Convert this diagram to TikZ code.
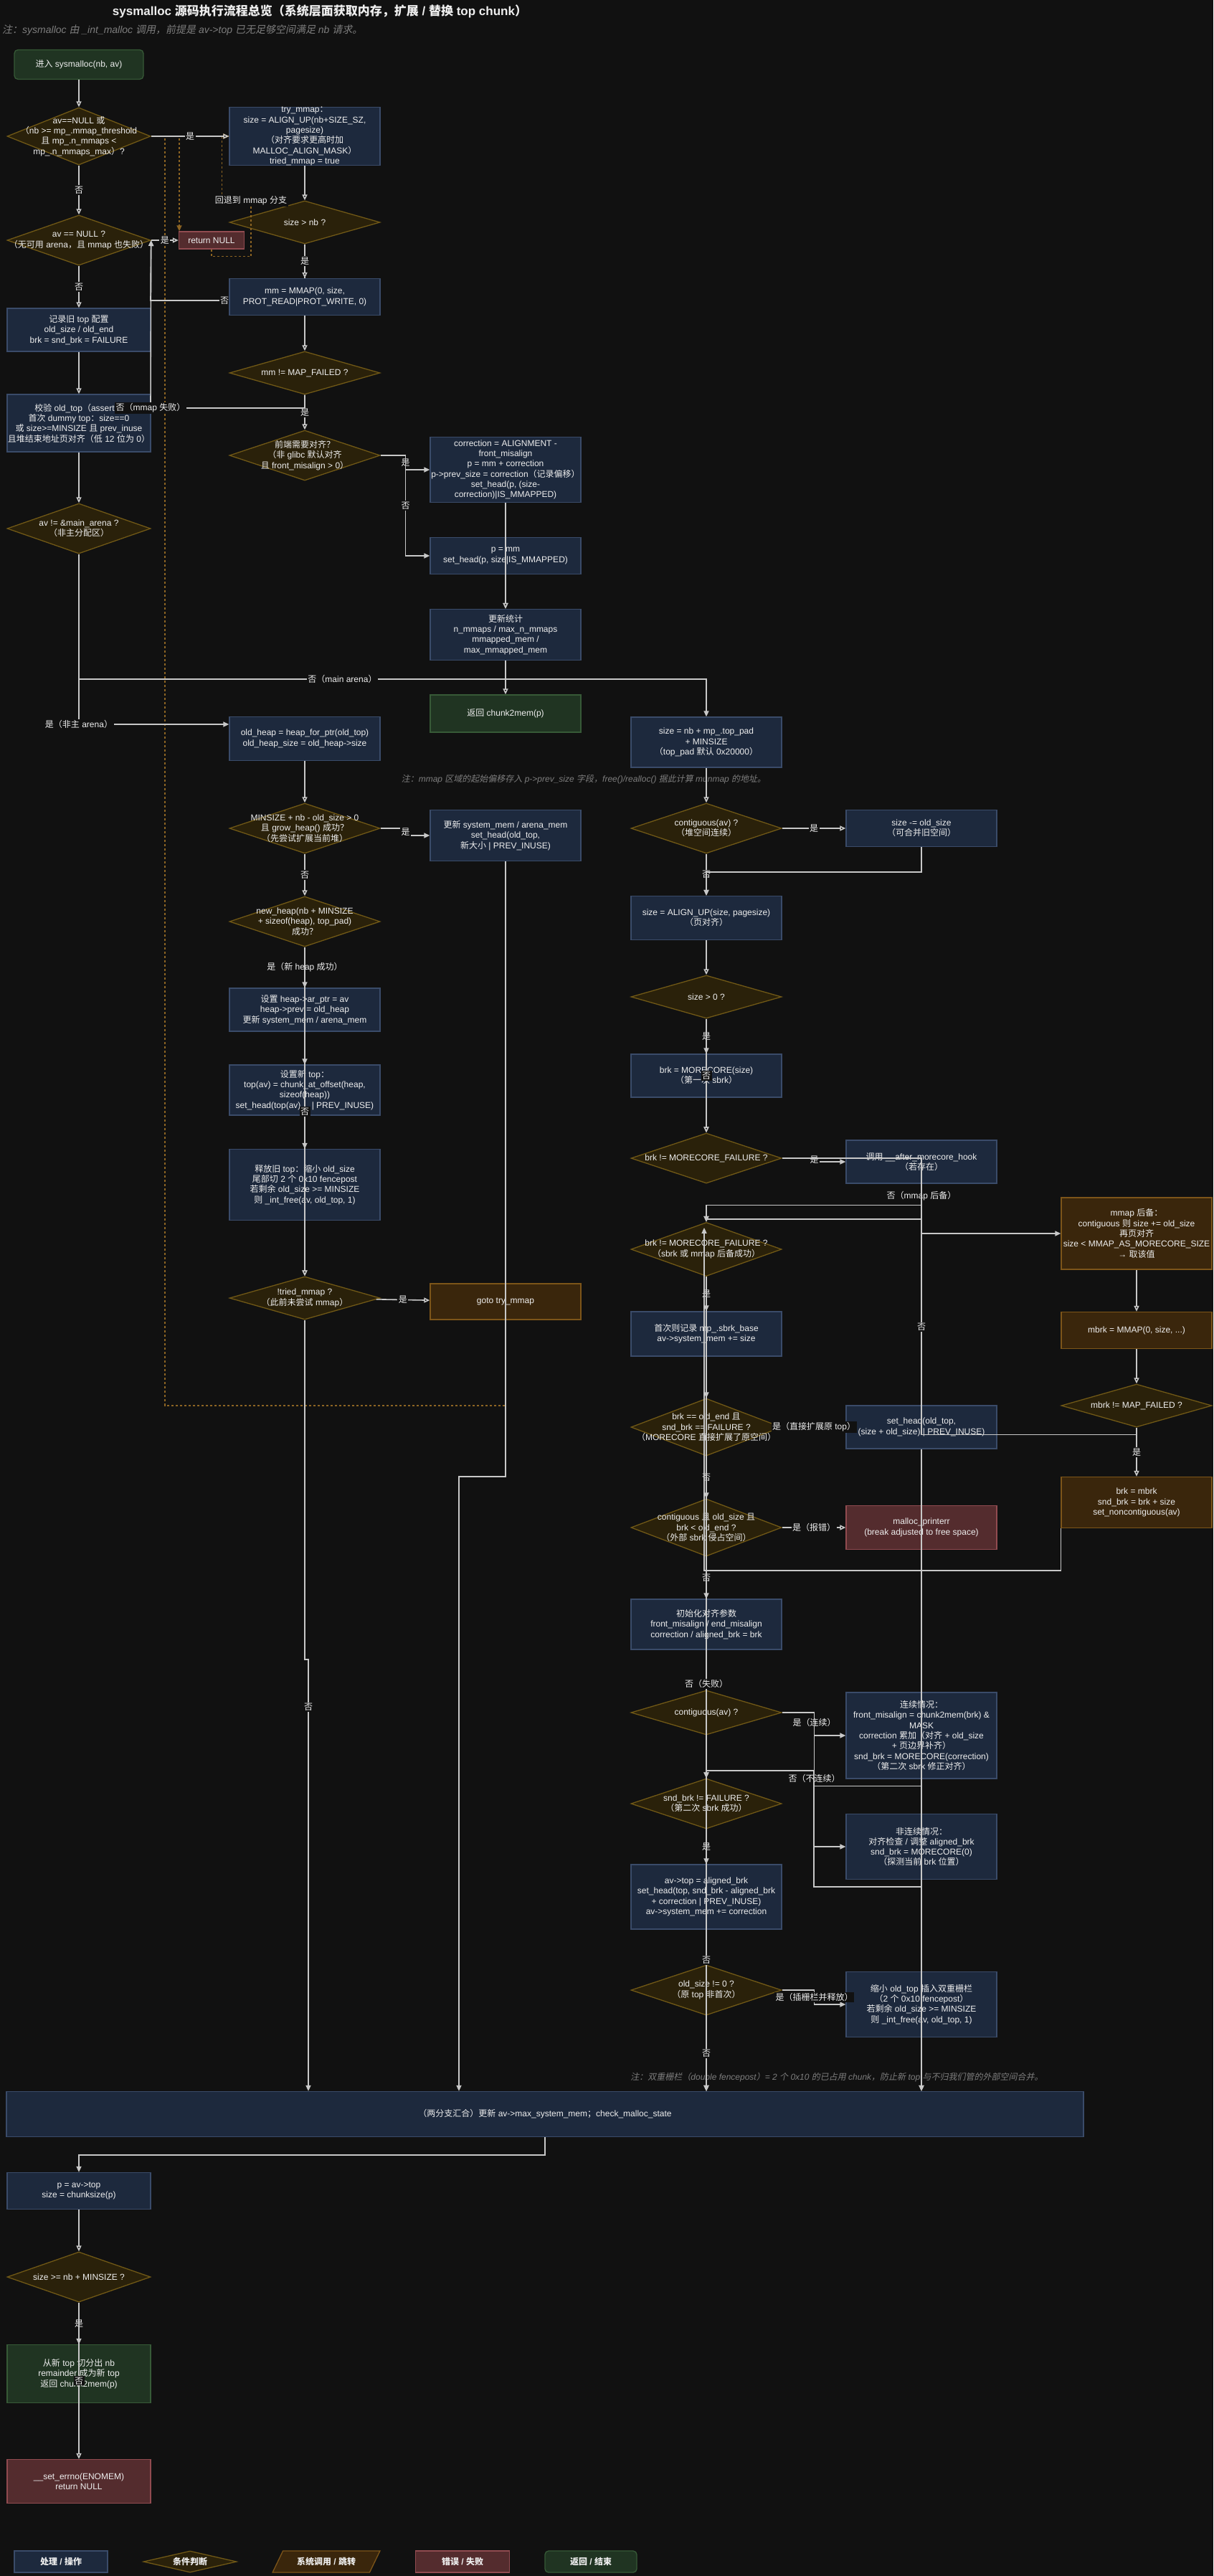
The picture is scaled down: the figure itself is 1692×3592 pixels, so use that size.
\documentclass[tikz,border=0pt]{standalone}
\usepackage{fontspec}
\setmainfont{Liberation Sans}
\newfontfamily\cjkfont[ItalicFont={Noto Sans CJK SC},ItalicFeatures={FakeSlant=0.2}]{Noto Sans CJK SC}
\XeTeXinterchartokenstate=1
\newXeTeXintercharclass\cjkcls
\newcount\cjkcnt
\def\cjkrange#1#2{\cjkcnt=#1\relax\loop\XeTeXcharclass\cjkcnt=\cjkcls\advance\cjkcnt by 1\relax\ifnum\cjkcnt<#2\repeat}
\cjkrange{"3000}{"3040}
\cjkrange{"4E00}{"A000}
\cjkrange{"FF00}{"FFF0}
\XeTeXinterchartoks 0 \cjkcls = {\begingroup\cjkfont}
\XeTeXinterchartoks 4095 \cjkcls = {\begingroup\cjkfont}
\XeTeXinterchartoks \cjkcls 0 = {\endgroup}
\XeTeXinterchartoks \cjkcls 4095 = {\endgroup}
\usetikzlibrary{arrows.meta,shapes.geometric}
\pgfdeclarelayer{back}
\pgfdeclarelayer{under}
\pgfsetlayers{back,under,main}
\definecolor{bgc}{RGB}{17,17,17}
\definecolor{txt}{RGB}{238,238,238}
\definecolor{notec}{RGB}{125,125,125}
\definecolor{edgec}{RGB}{200,200,200}
\definecolor{dashc}{RGB}{140,100,35}
\definecolor{procfill}{RGB}{29,41,61}
\definecolor{procline}{RGB}{58,75,105}
\definecolor{decfill}{RGB}{42,33,10}
\definecolor{decline}{RGB}{112,88,22}
\definecolor{callfill}{RGB}{58,38,12}
\definecolor{callline}{RGB}{125,85,25}
\definecolor{errfill}{RGB}{84,44,46}
\definecolor{errline}{RGB}{145,75,80}
\definecolor{retfill}{RGB}{32,52,34}
\definecolor{retline}{RGB}{55,90,55}

\begin{document}
\begin{tikzpicture}[x=1pt,y=-1pt,>={Triangle[length=8pt,width=7pt]},
	base node/.style={align=center,text=txt,font=\fontsize{12}{14.3}\selectfont,line width=1.3pt,minimum width=210,inner sep=-20pt},
	proc node/.style={base node,rectangle,fill=procfill,draw=procline,minimum height=#1},
	dec node/.style={base node,diamond,fill=decfill,draw=decline,minimum height=#1,inner sep=-120pt},
	call node/.style={base node,rectangle,fill=callfill,draw=callline,minimum height=#1},
	err node/.style={base node,rectangle,fill=errfill,draw=errline,minimum height=#1},
	ret node/.style={base node,rectangle,fill=retfill,draw=retline,minimum height=#1},
	legend txt/.style={font=\fontsize{12}{14.3}\selectfont\bfseries},
	lbl/.style={fill=bgc,text=txt,font=\fontsize{12}{14}\selectfont,inner sep=1.5pt},
	note txt/.style={text=notec,font=\fontsize{12}{14}\selectfont\itshape,inner sep=0pt},
	flow/.style={draw=edgec,line width=1.6pt,->},
	dash edge/.style={draw=dashc,line width=1.5pt,dash pattern=on 3pt off 3pt,->}]
	\useasboundingbox (0,0) rectangle (1692,3592);
	\begin{pgfonlayer}{back}
		\fill[bgc] (0,0) rectangle (1692,3592);
	\end{pgfonlayer}

	\node[text=txt,font=\fontsize{17}{19}\selectfont\bfseries] (T) at (446,16) {sysmalloc 源码执行流程总览（系统层面获取内存，扩展 / 替换 top chunk）};
	\node[note txt,font=\fontsize{14}{16}\selectfont\itshape,anchor=west] (N1) at (3,42) {注：sysmalloc 由 \_int\_malloc 调用，前提是 av->top 已无足够空间满足 nb 请求。};
	\node[note txt] (N2) at (814,1087) {注：mmap 区域的起始偏移存入 p->prev\_size 字段，free()/realloc() 据此计算 munmap 的地址。};
	\node[note txt] (N3) at (1167,2897) {注：双重栅栏（double fencepost）= 2 个 0x10 的已占用 chunk，防止新 top 与不归我们管的外部空间合并。};

	\node[ret node=41,minimum width=180,rounded corners=5pt] (st) at (110,90) {进入 sysmalloc(nb, av)};
	\node[dec node=80,minimum width=200] (d1) at (110,190) {av==NULL 或\\（nb >= mp\_.mmap\_threshold\\且 mp\_.n\_mmaps <\\mp\_.n\_mmaps\_max）?};
	\node[dec node=70,minimum width=200] (d2) at (110,335) {av == NULL ?\\（无可用 arena，且 mmap 也失败）};
	\node[proc node=60,minimum width=200] (rec) at (110,460) {记录旧 top 配置\\old\_size / old\_end\\brk = snd\_brk = FAILURE};
	\node[proc node=80,minimum width=200] (chk) at (110,590) {校验 old\_top（assert）\\首次 dummy top：size==0\\或 size>=MINSIZE 且 prev\_inuse\\且堆结束地址页对齐（低 12 位为 0）};
	\node[dec node=70,minimum width=200] (dma) at (110,737) {av != \&main\_arena ?\\（非主分配区）};
	\node[err node=24,minimum width=91] (rn) at (295,335) {return NULL};

	\node[proc node=81] (tm) at (425,190) {try\_mmap：\\size = ALIGN\_UP(nb+SIZE\_SZ,\\pagesize)\\（对齐要求更高时加\\MALLOC\_ALIGN\_MASK）\\tried\_mmap = true};
	\node[dec node=60] (snb) at (425,310) {size > nb ?};
	\node[proc node=51] (mm) at (425,414) {mm = MMAP(0, size,\\PROT\_READ|PROT\_WRITE, 0)};
	\node[dec node=60] (mmf) at (425,520) {mm != MAP\_FAILED ?};
	\node[dec node=70] (fal) at (425,635) {前端需要对齐？\\（非 glibc 默认对齐\\且 front\_misalign > 0）};
	\node[proc node=61] (oh) at (425,1030) {old\_heap = heap\_for\_ptr(old\_top)\\old\_heap\_size = old\_heap->size};
	\node[dec node=70] (gh) at (425,1155) {MINSIZE + nb - old\_size > 0\\且 grow\_heap() 成功？\\（先尝试扩展当前堆）};
	\node[dec node=70] (nh) at (425,1285) {new\_heap(nb + MINSIZE\\+ sizeof(heap), top\_pad)\\成功？};
	\node[proc node=60] (hp) at (425,1408) {设置 heap->ar\_ptr = av\\heap->prev = old\_heap\\更新 system\_mem / arena\_mem};
	\node[proc node=70] (nt) at (425,1520) {设置新 top：\\top(av) = chunk\_at\_offset(heap,\\sizeof(heap))\\set\_head(top(av),\hspace{12pt}| PREV\_INUSE)};
	\node[proc node=99] (fr) at (425,1652) {释放旧 top：缩小 old\_size\\尾部切 2 个 0x10 fencepost\\若剩余 old\_size >= MINSIZE\\则 \_int\_free(av, old\_top, 1)};
	\node[dec node=60] (tr) at (425,1810) {!tried\_mmap ?\\（此前未尝试 mmap）};

	\node[proc node=91] (cor) at (705,655) {correction = ALIGNMENT -\\front\_misalign\\p = mm + correction\\p->prev\_size = correction（记录偏移）\\set\_head(p, (size-\\correction)|IS\_MMAPPED)};
	\node[proc node=51] (pm) at (705,775) {p = mm\\set\_head(p, size|IS\_MMAPPED)};
	\node[proc node=71] (ms) at (705,885) {更新统计\\n\_mmaps / max\_n\_mmaps\\mmapped\_mem /\\max\_mmapped\_mem};
	\node[ret node=52] (rc) at (705,995) {返回 chunk2mem(p)};
	\node[proc node=71] (usm) at (705,1165) {更新 system\_mem / arena\_mem\\set\_head(old\_top,\\新大小 | PREV\_INUSE)};
	\node[call node=50] (gt) at (705,1815) {goto try\_mmap};

	\node[proc node=70] (sz) at (985,1035) {size = nb + mp\_.top\_pad\\+ MINSIZE\\（top\_pad 默认 0x20000）};
	\node[dec node=70] (ct1) at (985,1155) {contiguous(av) ?\\（堆空间连续）};
	\node[proc node=61] (al) at (985,1280) {size = ALIGN\_UP(size, pagesize)\\（页对齐）};
	\node[dec node=60] (sp) at (985,1390) {size > 0 ?};
	\node[proc node=60] (mc) at (985,1500) {brk = MORECORE(size)\\（第一次 sbrk）};
	\node[dec node=70] (bd) at (985,1615) {brk != MORECORE\_FAILURE ?};
	\node[dec node=75] (bd2) at (985,1742) {brk != MORECORE\_FAILURE ?\\（sbrk 或 mmap 后备成功）};
	\node[proc node=62] (fb) at (985,1860) {首次则记录 mp\_.sbrk\_base\\av->system\_mem += size};
	\node[dec node=80] (oe) at (985,1990) {brk == old\_end 且\\snd\_brk == FAILURE ?\\（MORECORE 直接扩展了原空间）};
	\node[dec node=80] (ov) at (985,2130) {contiguous 且 old\_size 且\\brk < old\_end ?\\（外部 sbrk 侵占空间）};
	\node[proc node=70] (ini) at (985,2265) {初始化对齐参数\\front\_misalign / end\_misalign\\correction / aligned\_brk = brk};
	\node[dec node=62] (ct2) at (985,2388) {contiguous(av) ?};
	\node[dec node=70] (sb) at (985,2515) {snd\_brk != FAILURE ?\\（第二次 sbrk 成功）};
	\node[proc node=90] (at) at (985,2645) {av->top = aligned\_brk\\set\_head(top, snd\_brk - aligned\_brk\\+ correction | PREV\_INUSE)\\av->system\_mem += correction};
	\node[dec node=70] (os) at (985,2775) {old\_size != 0 ?\\（原 top 非首次）};

	\node[proc node=51] (so) at (1285,1155) {size -= old\_size\\（可合并旧空间）};
	\node[proc node=60] (hk) at (1285,1620) {调用 \_\_after\_morecore\_hook\\（若存在）};
	\node[proc node=60] (sh) at (1285,1990) {set\_head(old\_top,\\(size + old\_size) | PREV\_INUSE)};
	\node[err node=61] (pe) at (1285,2130) {malloc\_printerr\\(break adjusted to free space)};
	\node[proc node=120] (cc) at (1285,2420) {连续情况：\\front\_misalign = chunk2mem(brk) \&\\MASK\\correction 累加（对齐 + old\_size\\+ 页边界补齐）\\snd\_brk = MORECORE(correction)\\（第二次 sbrk 修正对齐）};
	\node[proc node=91] (nc) at (1285,2575) {非连续情况：\\对齐检查 / 调整 aligned\_brk\\snd\_brk = MORECORE(0)\\（探测当前 brk 位置）};
	\node[proc node=91] (fp) at (1285,2795) {缩小 old\_top 插入双重栅栏\\（2 个 0x10 fencepost）\\若剩余 old\_size >= MINSIZE\\则 \_int\_free(av, old\_top, 1)};

	\node[call node=100] (mb) at (1585,1720) {mmap 后备：\\contiguous 则 size += old\_size\\再页对齐\\size < MMAP\_AS\_MORECORE\_SIZE\\→ 取该值};
	\node[call node=51] (mmb) at (1585,1855) {mbrk = MMAP(0, size, ...)};
	\node[dec node=60] (mfd) at (1585,1960) {mbrk != MAP\_FAILED ?};
	\node[call node=71] (bm) at (1585,2095) {brk = mbrk\\snd\_brk = brk + size\\set\_noncontiguous(av)};

	\node[proc node=63,minimum width=1502] (mg) at (760,2948) {（两分支汇合）更新 av->max\_system\_mem；check\_malloc\_state};
	\node[proc node=51,minimum width=200] (pt) at (110,3055) {p = av->top\\size = chunksize(p)};
	\node[dec node=70,minimum width=200] (sz2) at (110,3175) {size >= nb + MINSIZE ?};
	\node[ret node=81,minimum width=200] (sp2) at (110,3310) {从新 top 切分出 nb\\remainder 成为新 top\\返回 chunk2mem(p)};
	\node[err node=61,minimum width=200] (en) at (110,3460) {\_\_set\_errno(ENOMEM)\\return NULL};

	\node[proc node=30,minimum width=130,legend txt] (k1) at (85,3572) {处理 / 操作};
	\node[dec node=30,minimum width=130,legend txt] (k2) at (265,3572) {条件判断};
	\node[base node,trapezium,trapezium left angle=50,trapezium right angle=130,trapezium stretches=true,fill=callfill,draw=callline,minimum width=150,minimum height=30,inner sep=0pt,legend txt] (k3) at (455,3572) {系统调用 / 跳转};
	\node[err node=30,minimum width=131,legend txt] (k4) at (645,3572) {错误 / 失败};
	\node[ret node=30,minimum width=128,rounded corners=5pt,legend txt] (k5) at (824,3572) {返回 / 结束};

	\coordinate (j1) at (430,2314);
	\coordinate (j2) at (640,2059);
	\coordinate (j3) at (110,947);
	\coordinate (j4) at (1285,1720);
	\coordinate (j5) at (1285,1700);
	\coordinate (j6) at (982,2190);
	\coordinate (j7) at (1135,2469);
	\coordinate (j8) at (210,419);
	\coordinate (j9) at (210,569);
	\coordinate (j10) at (230,1960);
	\coordinate (j11) at (350,280);

	\begin{pgfonlayer}{under}
		\draw[flow] (snb.south) |- node[lbl,pos=0.76]{否} (j8) -- (d2.east);
	\end{pgfonlayer}

	\draw[dash edge] (gt.south) |- (j10) |- (tm.west);
	\draw[dash edge] (tm.west) -| ([xshift=-45pt]rn.north);
	\draw[dash edge] (rn.south) -- ++(0,10) -| (j11) node[lbl]{回退到 mmap 分支} -| ([xshift=-10pt]tm.west) -- (tm.west);

	\path[flow]
	(st) edge (d1)
	(d1) edge node[lbl]{否} (d2)
	(d1) edge node[lbl]{是} (tm)
	(d2) edge node[lbl]{否} (rec)
	(d2) edge node[lbl]{是} (rn)
	(rec) edge (chk)
	(chk) edge (dma)
	(tm) edge (snb)
	(snb) edge node[lbl]{是} (mm)
	(mm) edge (mmf)
	(mmf) edge node[lbl]{是} (fal)
	(cor) edge (ms)
	(pm) edge (ms)
	(ms) edge (rc)
	(oh) edge (gh)
	(gh) edge node[lbl]{否} (nh)
	(nh) edge node[lbl]{是（新 heap 成功）} (hp)
	(hp) edge (nt)
	(nt) edge (fr)
	(fr) edge (tr)
	(nh) edge node[lbl]{否} (tr)
	(tr) edge node[lbl]{是} (gt)
	(sz) edge (ct1)
	(ct1) edge node[lbl]{是} (so)
	(ct1) edge node[lbl]{否} (al)
	(al) edge (sp)
	(sp) edge node[lbl]{是} (mc)
	(mc) edge (bd)
	(sp) edge node[lbl]{否} (bd)
	(mb) edge (mmb)
	(mmb) edge (mfd)
	(mfd) edge node[lbl]{是} (bm)
	(bd2) edge node[lbl]{是} (fb)
	(fb) edge (oe)
	(oe) edge node[lbl]{是（直接扩展原 top）} (sh)
	(oe) edge node[lbl]{否} (ov)
	(ov) edge node[lbl]{是（报错）} (pe)
	(ov) edge node[lbl]{否} (ini)
	(ini) edge (ct2)
	(sb) edge node[lbl]{是} (at)
	(at) edge (os)
	(pt) edge (sz2)
	(sz2) edge node[lbl]{是} (sp2)
	(sz2) edge node[lbl]{否} (en);

	\draw[flow] (mmf.south) |- (j9) node[lbl]{否（mmap 失败）} -- (d2.east);
	\draw[flow] (dma.south) -- (j3) -| node[lbl,pos=0.21]{否（main arena）} (sz.north);
	\draw[flow] (dma.south) |- node[lbl,pos=0.5]{是（非主 arena）} ([yshift=20pt]oh.west);
	\draw[flow] (fal.east) -- ++(35,0) |- node[lbl,pos=0.25]{是} (cor.west);
	\draw[flow] (fal.east) -- ++(35,0) |- node[lbl,pos=0.25]{否} (pm.west);
	\draw[flow] (gh.east) -- ++(35,0) |- node[lbl,pos=0.25]{是} (usm.west);
	\draw[flow] (usm.south) |- (j2) -- (j2 |- mg.north);
	\draw[flow] (tr.south) |- (j1) -- node[lbl,pos=0.11]{否} (j1 |- mg.north);
	\draw[flow] (so.south) -- ++(0,35) -| (al.north);
	\draw[flow] (bd.east) -- ++(45,0) |- node[lbl,pos=0.25]{是} (hk.west);
	\draw[flow] (bd.east) -| node[lbl,pos=0.75]{否（mmap 后备）} (j4) -- (mb.west);
	\draw[flow] (hk.south) -- ++(0,30) -| (bd2.north);
	\draw[flow] (mfd.south) -- ++(0,10) -| node[lbl,pos=0.75]{否} (j5) -| (bd2.north);
	\draw[flow] (bm.south west) |- (j6) -- ([xshift=-3pt,yshift=-8pt]bd2.north);
	\draw[flow] (ct2.east) -- ++(45,0) |- node[lbl,pos=0.22]{是（连续）} (cc.west);
	\draw[flow] (ct2.east) -- ++(45,0) |- node[lbl,pos=0.245]{否（不连续）} (nc.west);
	\draw[flow] (cc.south) -- ++(0,10) -| (j7) -| (sb.north);
	\draw[flow] (nc.south) -- ++(0,10) -| (j7) -| (sb.north);
	\draw[flow] (os.east) -- ++(45,0) |- node[lbl,pos=0.25]{是（插栅栏并释放）} (fp.west);
	\draw[flow] (sh.south) -- (sh.south |- mg.north);
	\draw[flow] (fp.south) -- (fp.south |- mg.north);
	\draw[flow] (bd2.south) -- node[lbl]{否（失败）} (bd2.south |- mg.north);
	\draw[flow] (sb.south) -- node[lbl]{否} (sb.south |- mg.north);
	\draw[flow] (os.south) -- node[lbl]{否} (os.south |- mg.north);
	\draw[flow] (mg.south) -- ++(0,25) -| (pt.north);
\end{tikzpicture}
\end{document}
